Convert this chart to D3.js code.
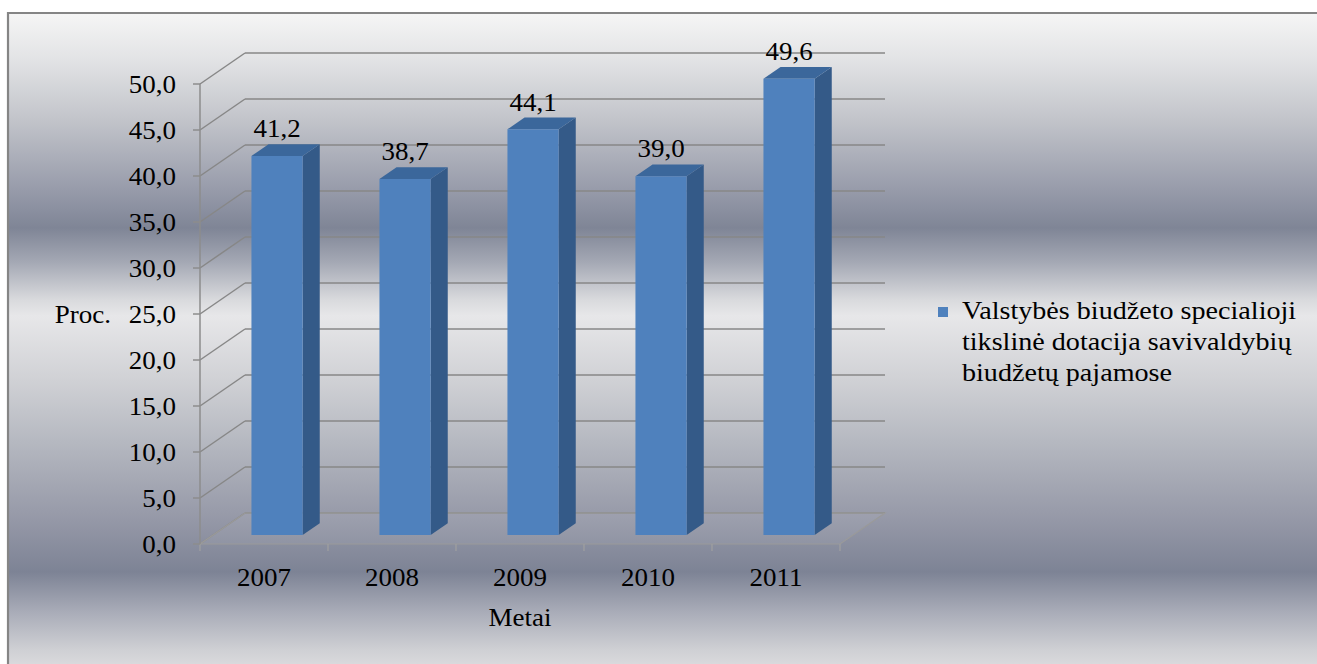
<!DOCTYPE html>
<html>
<head>
<meta charset="utf-8">
<script src="https://cdn.jsdelivr.net/npm/d3@7"></script>
<style>
  html, body { margin: 0; padding: 0; background: #ffffff; overflow: hidden; }
  svg { display: block; }
  text { font-family: "Liberation Serif", "Times New Roman", serif; fill: #000; }
</style>
</head>
<body>
<svg id="chart" width="1317" height="664"></svg>
<script>
// Chart data
const years = ["2007", "2008", "2009", "2010", "2011"];
const values = [41.2, 38.7, 44.1, 39.0, 49.6];
const valueLabels = ["41,2", "38,7", "44,1", "39,0", "49,6"];
const yTicks = [0, 5, 10, 15, 20, 25, 30, 35, 40, 45, 50];
const yTickLabels = ["0,0", "5,0", "10,0", "15,0", "20,0", "25,0", "30,0", "35,0", "40,0", "45,0", "50,0"];
const legendLines = ["Valstybės biudžeto specialioji", "tikslinė dotacija savivaldybių", "biudžetų pajamose"];
const yTitle = "Proc.";
const xTitle = "Metai";

const svg = d3.select("#chart");
const W = 1317, H = 664;

// Layout of the 3D plot box
const plotLeft = 200, plotRight = 840, floorY = 544, plotTop = 84;
const depthX = 45, depthY = -31;          // full wall depth offset
const barD0 = 0.29, barD1 = 0.67;         // bar depth range (fraction of wall depth)
const fontSize = 25, stretch = 1.08;

const x = d3.scaleBand().domain(years).range([plotLeft, plotRight]).paddingInner(0).paddingOuter(0);
const y = d3.scaleLinear().domain([0, 50]).range([floorY, plotTop]);
const barW = x.bandwidth() * 0.4;

// project a point (screen x in front plane, value, depth fraction)
const P = (sx, v, d) => [sx + d * depthX, y(v) + d * depthY];

// Background
const defs = svg.append("defs");
const grad = defs.append("linearGradient").attr("id", "bg")
  .attr("gradientUnits", "userSpaceOnUse").attr("x1", 0).attr("y1", 13).attr("x2", 0).attr("y2", 664);
const bgStops = [
  [14, "#f5f5f5"], [60, "#e2e3e5"], [120, "#c2c4ca"], [190, "#979baa"], [228, "#7f8596"],
  [262, "#a4a8b4"], [300, "#d9dadd"], [316, "#e7e7e9"], [380, "#d0d1d5"], [440, "#b6b9c1"],
  [520, "#9598a7"], [572, "#7d8395"], [612, "#a9acb8"], [650, "#cfd0d4"], [664, "#d9d9dc"]
];
bgStops.forEach(([py, c]) => grad.append("stop").attr("offset", (py - 13) / (664 - 13)).attr("stop-color", c));

svg.append("rect").attr("x", 8).attr("y", 13).attr("width", W - 8).attr("height", H - 13)
  .attr("fill", "url(#bg)");
// chart frame: only the top and left edges fall inside the page
svg.append("path").attr("d", `M8,${H}V13H${W}`)
  .attr("fill", "none").attr("stroke", "#858585").attr("stroke-width", 2.2);

const gridColor = "#878787";
const g = svg.append("g");

// Gridlines on side wall and back wall
yTicks.forEach(v => {
  const [fx, fy] = P(plotLeft, v, 0);
  const [bx, by] = P(plotLeft, v, 1);
  const [ex] = P(plotRight, v, 1);
  g.append("line").attr("x1", fx).attr("y1", fy).attr("x2", bx).attr("y2", by)
    .attr("stroke", gridColor).attr("stroke-width", 1.5);
  g.append("line").attr("x1", bx).attr("y1", by).attr("x2", ex).attr("y2", by)
    .attr("stroke", gridColor).attr("stroke-width", 1.5);
});

// Floor outline
const floorPts = [P(plotLeft, 0, 0), P(plotRight, 0, 0), P(plotRight, 0, 1), P(plotLeft, 0, 1)];
g.append("path").attr("d", d3.line()(floorPts) + "Z")
  .attr("fill", "rgba(255,255,255,0.06)").attr("stroke", "#9a9a9a").attr("stroke-width", 1.2);

// Category ticks
const catEdges = years.map(c => x(c)).concat([plotRight]);
g.selectAll(".ctick").data(catEdges).join("line")
  .attr("x1", d => d).attr("x2", d => d).attr("y1", floorY).attr("y2", floorY + 7)
  .attr("stroke", "#a0a0a0").attr("stroke-width", 1.2);

// Value axis
g.append("line").attr("x1", plotLeft).attr("x2", plotLeft).attr("y1", y(50)).attr("y2", floorY)
  .attr("stroke", "#8c8c8c").attr("stroke-width", 1.5);
g.selectAll(".ytick").data(yTicks).join("line")
  .attr("x1", plotLeft - 7).attr("x2", plotLeft).attr("y1", d => y(d)).attr("y2", d => y(d))
  .attr("stroke", "#8c8c8c").attr("stroke-width", 1.5);

// helper for horizontally stretched serif text
function label(parent, txt, px, py, anchor, sx) {
  return parent.append("text")
    .attr("transform", `translate(${px},${py}) scale(${sx || stretch},1)`)
    .attr("text-anchor", anchor || "middle")
    .style("font-size", fontSize + "px")
    .text(txt);
}

yTicks.forEach((v, i) => label(g, yTickLabels[i], 176, y(v) + 9, "end"));
label(g, yTitle, 111, y(25) + 9, "end");

years.forEach(c => label(g, c, x(c) + x.bandwidth() / 2, 586, "middle"));
label(g, xTitle, (plotLeft + plotRight) / 2, 626, "middle");

// Bars
const frontColor = "#4f81bd", sideColor = "#345a88", topColor = "#3b679b";
years.forEach((c, i) => {
  const v = values[i];
  const x0 = x(c) + (x.bandwidth() - barW) / 2, x1 = x0 + barW;
  const fbl = P(x0, 0, barD0), fbr = P(x1, 0, barD0), ftl = P(x0, v, barD0), ftr = P(x1, v, barD0);
  const bbr = P(x1, 0, barD1), btl = P(x0, v, barD1), btr = P(x1, v, barD1);
  const bar = g.append("g");
  bar.append("path").attr("d", d3.line()([fbr, bbr, btr, ftr]) + "Z").attr("fill", sideColor);
  bar.append("path").attr("d", d3.line()([ftl, ftr, btr, btl]) + "Z").attr("fill", topColor);
  bar.append("path").attr("d", d3.line()([fbl, fbr, ftr, ftl]) + "Z").attr("fill", frontColor);
  label(g, valueLabels[i], (fbl[0] + fbr[0]) / 2, btl[1] - 7, "middle");
});

// Legend
const lg = svg.append("g");
lg.append("rect").attr("x", 938).attr("y", 307).attr("width", 10).attr("height", 10).attr("fill", frontColor);
legendLines.forEach((t, i) => label(lg, t, 962, 319 + i * 31, "start", 1.125));
</script>
</body>
</html>
